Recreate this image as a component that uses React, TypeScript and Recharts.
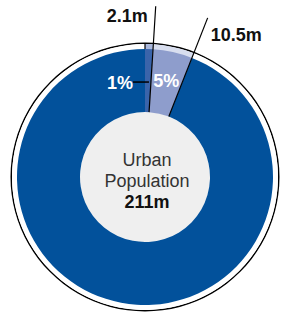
import { PieChart, Pie, Cell, Label } from 'recharts';

const segments = ['Group A', 'Group B', 'Rest'];
const populations = [2.1, 10.5, 198.4];
const valueLabels = ['2.1m', '10.5m', ''];
const percentLabels = ['1%', '5%', ''];
const totalLabel = '211m';
const centerLines = ['Urban', 'Population'];

const ringColors = ['#3a64aa', '#8e9dcc', '#02519b'];
const bandColors = ['#a9b7dc', '#d8deef', '#ffffff'];

const RADIAN = Math.PI / 180;
const FONT = '"Liberation Sans", Arial, sans-serif';

const data = segments.map((name, i) => ({
  name,
  value: populations[i],
  valueLabel: valueLabels[i],
  pct: percentLabels[i],
}));

const polar = (cx: number, cy: number, r: number, angle: number) => ({
  x: cx + r * Math.cos(-angle * RADIAN),
  y: cy + r * Math.sin(-angle * RADIAN),
});

function SliceLabel(props: any) {
  const { cx, cy, innerRadius, outerRadius, midAngle, startAngle, endAngle, index, payload } = props;
  if (!payload || !payload.valueLabel) return null;
  const end = endAngle ?? midAngle - (props.percent || 0) * 180;
  const start = startAngle ?? midAngle + (props.percent || 0) * 180;
  const a = polar(cx, cy, innerRadius, end);
  const b = polar(cx, cy, outerRadius + 43, end);
  const items: any[] = [
    <line key="l" x1={a.x} y1={a.y} x2={b.x} y2={b.y} stroke="#000" strokeWidth={1.2} />,
  ];
  if (index === 0) {
    const s1 = polar(cx, cy, outerRadius, start);
    const s2 = polar(cx, cy, outerRadius + 6, start);
    items.push(<line key="s" x1={s1.x} y1={s1.y} x2={s2.x} y2={s2.y} stroke="#000" strokeWidth={1.2} />);
    items.push(
      <text key="v" x={b.x - 8} y={b.y + 16} textAnchor="end" fontFamily={FONT} fontSize={18} fontWeight="bold" fill="#111">
        {payload.valueLabel}
      </text>
    );
    const p = polar(cx, cy, 95, midAngle);
    items.push(<line key="p" x1={p.x - 15} y1={p.y} x2={p.x + 1} y2={p.y} stroke="#000" strokeWidth={1.5} />);
    items.push(
      <text key="t" x={p.x - 15} y={p.y + 7} textAnchor="end" fontFamily={FONT} fontSize={18} fontWeight="bold" fill="#fff">
        {payload.pct}
      </text>
    );
  } else {
    items.push(
      <text key="v" x={b.x + 3} y={b.y + 23} textAnchor="start" fontFamily={FONT} fontSize={18} fontWeight="bold" fill="#111">
        {payload.valueLabel}
      </text>
    );
    const p = polar(cx, cy, 98, midAngle);
    items.push(
      <text key="t" x={p.x} y={p.y + 6} textAnchor="middle" fontFamily={FONT} fontSize={18} fontWeight="bold" fill="#fff">
        {payload.pct}
      </text>
    );
  }
  return <g>{items}</g>;
}

function CenterText(props: any) {
  const vb = props.viewBox || {};
  const cx = vb.cx ?? 145;
  const cy = vb.cy ?? 177;
  return (
    <g fontFamily={FONT} fontSize={18} textAnchor="middle">
      <text x={cx + 2} y={cy - 11} fill="#333">{centerLines[0]}</text>
      <text x={cx + 2} y={cy + 10} fill="#333">{centerLines[1]}</text>
      <text x={cx + 2} y={cy + 31} fill="#111" fontWeight="bold">{totalLabel}</text>
    </g>
  );
}

export default function App() {
  const cx = 145;
  const cy = 177;
  return (
    <div style={{ position: 'fixed', left: 0, top: 0, background: '#fff' }}>
      <PieChart width={281} height={316} margin={{ top: 0, right: 0, bottom: 0, left: 0 }}>
        <Pie
          data={[{ value: 1 }]}
          dataKey="value"
          cx={cx}
          cy={cy}
          innerRadius={133}
          outerRadius={134.5}
          startAngle={90}
          endAngle={-270}
          fill="#000"
          stroke="none"
          isAnimationActive={false}
        />
        <Pie
          data={data}
          dataKey="value"
          cx={cx}
          cy={cy}
          innerRadius={127}
          outerRadius={133}
          startAngle={90}
          endAngle={-270}
          stroke="none"
          isAnimationActive={false}
        >
          {data.map((d, i) => (
            <Cell key={d.name} fill={bandColors[i]} />
          ))}
        </Pie>
        <Pie
          data={[{ value: 1 }]}
          dataKey="value"
          cx={cx}
          cy={cy}
          innerRadius={0}
          outerRadius={65}
          startAngle={90}
          endAngle={-270}
          fill="#efefef"
          stroke="none"
          isAnimationActive={false}
        >
          <Label position="center" content={<CenterText />} />
        </Pie>
        <Pie
          data={data}
          dataKey="value"
          cx={cx}
          cy={cy}
          innerRadius={65}
          outerRadius={128}
          startAngle={90}
          endAngle={-270}
          stroke="none"
          labelLine={false}
          label={SliceLabel}
          isAnimationActive={false}
        >
          {data.map((d, i) => (
            <Cell key={d.name} fill={ringColors[i]} />
          ))}
        </Pie>
      </PieChart>
    </div>
  );
}
